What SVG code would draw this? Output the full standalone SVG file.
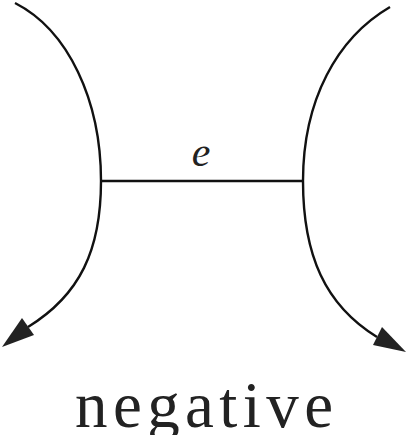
<svg xmlns="http://www.w3.org/2000/svg" width="407" height="435" viewBox="0 0 407 435">
<style>
.c{fill:none;stroke:#111;stroke-width:2.4}
.ah{fill:#222;stroke:none}
.lbl{font-family:"Liberation Serif","Times New Roman",serif;fill:#222}
</style>
<rect width="407" height="435" fill="#fff"/>
<g id="connectors">
<path class="c" d="M15,3 C68,30 101,100 101,181 C101,250 80,295 28,327"/>
<path class="c" d="M390,7 C337,38 303,100 303,181 C303,255 325,305 377,337"/>
<line class="c" x1="101" y1="181" x2="303" y2="181"/>
<polygon class="ah" points="2,347 22,318 34,335"/>
<polygon class="ah" points="406,352 382,327 373,345"/>
</g>
<g id="edge-label"><text class="lbl" x="201" y="166" font-size="42" font-style="italic" text-anchor="middle">e</text></g>
<g id="caption"><text class="lbl" x="75" y="427" font-size="65" textLength="258" lengthAdjust="spacing">negative</text></g>
</svg>
